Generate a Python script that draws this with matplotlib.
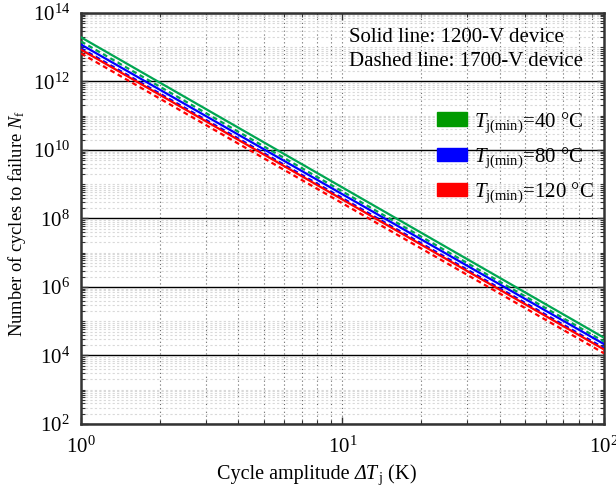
import numpy as np
import matplotlib
matplotlib.use("Agg")
import matplotlib.pyplot as plt
from matplotlib.ticker import FixedLocator, LogLocator, FuncFormatter, NullFormatter
from matplotlib.patches import Patch
from matplotlib.offsetbox import TextArea, HPacker, AnchoredOffsetbox

plt.rcParams['font.family'] = ['Liberation Serif', 'DejaVu Serif']
plt.rcParams['mathtext.fontset'] = 'custom'
plt.rcParams['mathtext.rm'] = 'Liberation Serif'
plt.rcParams['mathtext.it'] = 'Liberation Serif:italic'
plt.rcParams['mathtext.bf'] = 'Liberation Serif:bold'

# Cycle amplitude (K) at the ends of each straight log-log line
delta_T = [1, 100]

# Number of cycles to failure for each minimum junction temperature
nf_1200_40 = [1.95e13, 3.3e4]
nf_1700_40 = [1.48e13, 2.55e4]
nf_1200_80 = [1.20e13, 2.15e4]
nf_1700_80 = [9.3e12, 1.65e4]
nf_1200_120 = [8.5e12, 1.50e4]
nf_1700_120 = [6.6e12, 1.16e4]

labels = [r'$T_\mathrm{j(min)}$=40 °C', r'$T_\mathrm{j(min)}$=80 °C', r'$T_\mathrm{j(min)}$=120 °C']
line_colors = ['#00a651', '#0000ff', '#ff0000']
patch_colors = ['#009a00', '#0000ff', '#ff0000']

W, H = 616, 496
fig = plt.figure(figsize=(W / 100, H / 100), dpi=100)
ax = fig.add_axes([0.1315, 0.1452, 0.849, 0.8286])

series = [(nf_1200_40, nf_1700_40), (nf_1200_80, nf_1700_80), (nf_1200_120, nf_1700_120)]
for (solid, dashed), c in zip(series, line_colors):
    ax.plot(delta_T, solid, color=c, lw=1.6, ls='-', zorder=3)
    ax.plot(delta_T, dashed, color=c, lw=1.6, ls=(0, (2.2, 1.6)), zorder=3)

ax.set_xscale('log')
ax.set_yscale('log')
ax.set_xlim(1, 100)
ax.set_ylim(1e2, 1e14)

ax.yaxis.set_major_locator(FixedLocator([10.0 ** k for k in range(2, 15, 2)]))
ax.yaxis.set_minor_locator(LogLocator(base=10, subs=np.arange(1, 10), numticks=100))
ax.yaxis.set_major_formatter(FuncFormatter(lambda v, p: r'$10^{%d}$' % round(np.log10(v))))
ax.yaxis.set_minor_formatter(NullFormatter())
ax.xaxis.set_major_locator(FixedLocator([1, 10, 100]))
ax.xaxis.set_minor_locator(LogLocator(base=10, subs=np.arange(2, 10), numticks=100))
ax.xaxis.set_major_formatter(FuncFormatter(lambda v, p: r'$10^{%d}$' % round(np.log10(v))))
ax.xaxis.set_minor_formatter(NullFormatter())

ax.tick_params(which='both', direction='in', top=True, right=True, labelsize=15, colors='#333333',
               labelcolor='black')
ax.tick_params(which='major', length=5, width=1)
ax.tick_params(which='minor', length=3, width=0.8)
ax.tick_params(axis='x', which='major', pad=9)
ax.tick_params(axis='y', which='major', pad=8)

ax.yaxis.grid(True, which='major', color='black', lw=1.0, ls='-', zorder=1)
ax.yaxis.grid(True, which='minor', color='#d9d9d9', lw=0.8, ls=(0, (2, 2)), zorder=1)
ax.xaxis.grid(True, which='both', color='#666666', lw=0.8, ls=(0, (1, 2.5)), zorder=1)
ax.set_axisbelow(True)

for s in ax.spines.values():
    s.set_linewidth(1.8)
    s.set_color('#333333')

# x label built from pieces so that the Greek Delta can be italic
xl_size = 14.5
xlabel_box = HPacker(children=[
    TextArea('Cycle amplitude ', textprops=dict(fontsize=xl_size)),
    TextArea('ΔT', textprops=dict(fontsize=xl_size, fontstyle='italic')),
    TextArea(r'${}_\mathrm{j}$ (K)', textprops=dict(fontsize=xl_size)),
], align='baseline', pad=0, sep=0)
fig.add_artist(AnchoredOffsetbox(loc='center', child=xlabel_box, frameon=False, pad=0,
                                 borderpad=0, bbox_to_anchor=(317 / W, 1 - 475 / H),
                                 bbox_transform=fig.transFigure))

ax.set_ylabel(r'Number of cycles to failure $N_\mathrm{f}$', fontsize=13.3)
ax.yaxis.set_label_coords(-0.101, 0.487)

# Note on line styles, in pixel coordinates from the top-left corner
fig.text(349 / W, 1 - 37 / H, 'Solid line: 1200-V device', fontsize=15, va='center', ha='left')
fig.text(349 / W, 1 - 62 / H, 'Dashed line: 1700-V device', fontsize=15, va='center', ha='left')

handles = [Patch(facecolor=c, edgecolor=c) for c in patch_colors]
ax.legend(handles, labels, loc='upper right', bbox_to_anchor=(1.004, 0.795), frameon=False,
          fontsize=15, handlelength=1.45, handleheight=0.62, handletextpad=0.3,
          labelspacing=0.5, borderaxespad=0.2)

fig.savefig('out.png', dpi=100)
